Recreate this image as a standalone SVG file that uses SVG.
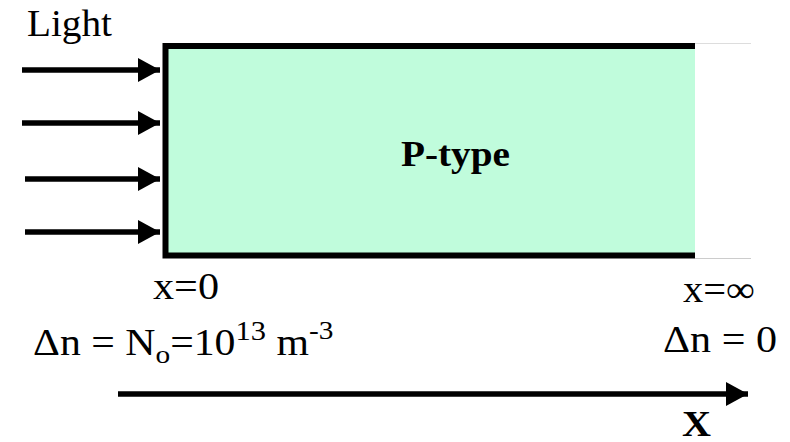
<svg xmlns="http://www.w3.org/2000/svg" width="790" height="442" viewBox="0 0 790 442">
<style>
.t{font-family:"Liberation Serif","Times New Roman",serif;fill:#000;}
.b{font-weight:bold;}
.ray{stroke:#000;stroke-width:5.5;fill:none;}
</style>
<defs>
<marker id="ah" markerUnits="userSpaceOnUse" markerWidth="24" markerHeight="26" refX="22" refY="12" orient="auto">
<path d="M0,0 L22,12 L0,24 Z" fill="#000"/>
</marker>
</defs>
<rect width="790" height="442" fill="#fff"/>
<g id="slab">
<line x1="695" y1="43.5" x2="751" y2="43.5" stroke="#ddd" stroke-width="1"/>
<line x1="695" y1="258.5" x2="751" y2="258.5" stroke="#ccc" stroke-width="1"/>
<rect x="165.5" y="46" width="529.5" height="209.5" fill="#c0fcdc"/>
<path d="M695,46 H165.5 V255.5 H695" fill="none" stroke="#000" stroke-width="6"/>
<text class="t b" x="401" y="166" font-size="36" textLength="109" lengthAdjust="spacingAndGlyphs">P-type</text>
</g>
<g id="light">
<text class="t" x="27" y="36" font-size="38" textLength="85" lengthAdjust="spacingAndGlyphs">Light</text>
</g>
<g id="connectors">
<line class="ray" x1="22" y1="70" x2="160" y2="70" marker-end="url(#ah)"/>
<line class="ray" x1="22" y1="123" x2="160" y2="123" marker-end="url(#ah)"/>
<line class="ray" x1="25" y1="179" x2="160" y2="179" marker-end="url(#ah)"/>
<line class="ray" x1="25" y1="232" x2="160" y2="232" marker-end="url(#ah)"/>
<line class="ray" x1="118" y1="394" x2="748" y2="394" stroke-width="6" marker-end="url(#ah)"/>
</g>
<g id="left-label">
<text class="t" x="153" y="299" font-size="37" textLength="66" lengthAdjust="spacingAndGlyphs">x=0</text>
<text class="t" transform="translate(33,355) scale(1.13,1)" x="0" y="0" font-size="37">Δn = N<tspan font-size="26" dy="8">o</tspan><tspan dy="-8">=10</tspan><tspan font-size="27" dy="-15">13</tspan><tspan dy="15"> m</tspan><tspan font-size="26" dy="-16">-3</tspan></text>
</g>
<g id="right-label">
<text class="t" x="683" y="302" font-size="37" textLength="72" lengthAdjust="spacingAndGlyphs">x=∞</text>
<text class="t" x="663" y="352" font-size="37" textLength="114" lengthAdjust="spacingAndGlyphs">Δn = 0</text>
</g>
<g id="axis-label">
<text class="t b" x="682" y="436" font-size="35" textLength="29" lengthAdjust="spacingAndGlyphs">X</text>
</g>
</svg>
